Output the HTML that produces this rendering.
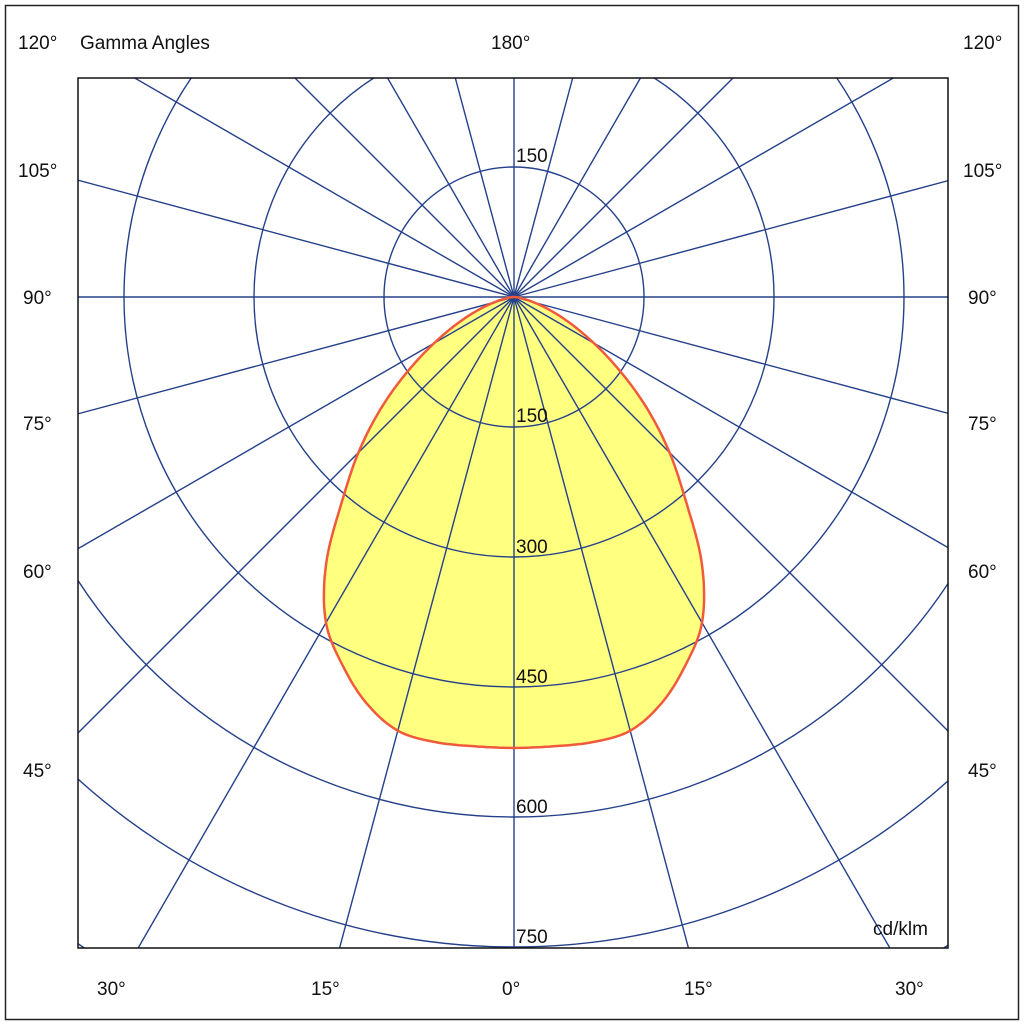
<!DOCTYPE html>
<html><head><style>
html,body{margin:0;padding:0;background:#fff;overflow:hidden;width:1024px;height:1025px}
svg{display:block}
svg text{font-family:"Liberation Sans",sans-serif;font-size:19px;fill:#111}
</style></head><body>
<svg id="s" width="1024" height="1025" xmlns="http://www.w3.org/2000/svg">
<rect x="0" y="0" width="1024" height="1025" fill="#fff"/>
<rect x="5.5" y="5.5" width="1013" height="1014" fill="none" stroke="#222" stroke-width="1.5"/>
<defs><clipPath id="c"><rect x="78" y="78" width="870" height="870"/></clipPath></defs>
<g id="fillg" clip-path="url(#c)"></g>
<g id="grid" clip-path="url(#c)" stroke="#24408a" stroke-width="1.4" fill="none"></g>
<g id="curve" clip-path="url(#c)"></g>
<rect x="78" y="78" width="870" height="870" fill="none" stroke="#111" stroke-width="1.5"/>
<text x="18" y="49">120°</text><text x="80" y="49">Gamma Angles</text>
<text x="491" y="49">180°</text><text x="963" y="49">120°</text>
<text x="18" y="177">105°</text><text x="963" y="177">105°</text>
<text x="23" y="304">90°</text><text x="968" y="304">90°</text>
<text x="23" y="430">75°</text><text x="968" y="430">75°</text>
<text x="23" y="578">60°</text><text x="968" y="578">60°</text>
<text x="23" y="777">45°</text><text x="968" y="777">45°</text>
<text x="97" y="995">30°</text><text x="311" y="995">15°</text><text x="502" y="995">0°</text>
<text x="684" y="995">15°</text><text x="895" y="995">30°</text>
<text x="516" y="162">150</text><text x="516" y="422">150</text><text x="516" y="553">300</text>
<text x="516" y="683">450</text><text x="516" y="813">600</text><text x="516" y="943">750</text>
<text x="873" y="935">cd/klm</text>
</svg>
<script>
var cx=514,cy=297,ns="http://www.w3.org/2000/svg";
var g=document.getElementById('grid');
function el(p,t,a){var e=document.createElementNS(ns,t);for(var k in a)e.setAttribute(k,a[k]);p.appendChild(e);return e;}
for(var i=1;i<=6;i++)el(g,'circle',{cx:cx,cy:cy,r:130*i});
for(var a=0;a<360;a+=15){var t=a*Math.PI/180;el(g,'line',{x1:cx,y1:cy,x2:cx+1400*Math.sin(t),y2:cy+1400*Math.cos(t)});}
var S=[[-10,452],[-5,452],[0,451],[5,451],[10,452],[15,449],[20,432],[25,406],[30,376],[35,328],[40,268],[45,220],[50,174],[55,130],[60,92],[65,62],[70,38],[75,20],[80,9],[85,3],[90,0],[95,0]];
function r(d){for(var i=1;i<S.length-2;i++){if(d<=S[i+1][0]){var f=(d-S[i][0])/5;var p0=S[i-1][1],p1=S[i][1],p2=S[i+1][1],p3=S[i+2][1];
return 0.5*((2*p1)+(-p0+p2)*f+(2*p0-5*p1+4*p2-p3)*f*f+(-p0+3*p1-3*p2+p3)*f*f*f);}}return 0;}
var pts=[];
for(var d=-90;d<=90;d+=0.5){var t=d*Math.PI/180,R=Math.max(0,r(Math.abs(d)));pts.push((cx+R*Math.sin(t)).toFixed(1)+','+(cy+R*Math.cos(t)).toFixed(1));}
el(document.getElementById('fillg'),'polygon',{points:pts.join(' '),fill:'#ffff80'});
el(document.getElementById('curve'),'polygon',{points:pts.join(' '),fill:'none',stroke:'#f05a3a','stroke-width':2.5,'stroke-linejoin':'round'});
</script>
</body></html>
